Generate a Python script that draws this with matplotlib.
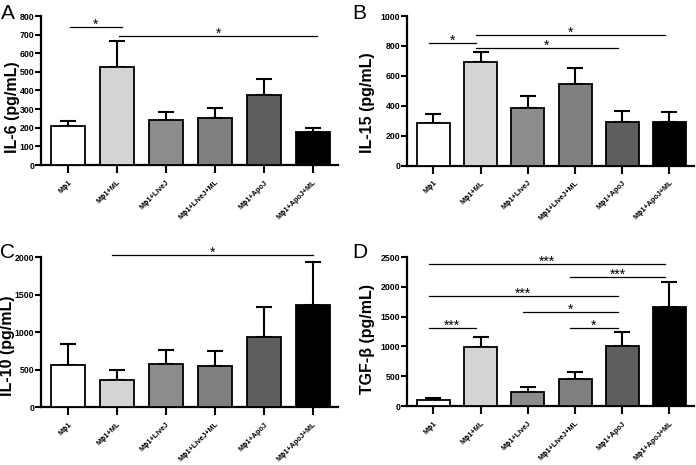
import matplotlib
matplotlib.use("Agg")
import matplotlib.pyplot as plt
import numpy as np

plt.rcParams['font.family'] = ['Liberation Sans', 'DejaVu Sans']

groups = ["M\u03d51", "M\u03d51+ML", "M\u03d51+LiveJ", "M\u03d51+LiveJ+ML", "M\u03d51+ApoJ", "M\u03d51+ApoJ+ML"]
bar_colors = ["#ffffff", "#d4d4d4", "#8c8c8c", "#7f7f7f", "#5e5e5e", "#000000"]

il6_mean = [209, 528, 241, 252, 377, 179]
il6_sem = [29, 139, 42, 52, 85, 20]
il15_mean = [283, 695, 383, 546, 294, 294]
il15_sem = [60, 67, 85, 109, 73, 62]
il10_mean = [564, 364, 578, 547, 933, 1356]
il10_sem = [280, 134, 186, 200, 400, 582]
tgf_mean = [100, 993, 240, 446, 1004, 1663]
tgf_sem = [40, 168, 72, 118, 240, 413]

# significance comparisons: (group i, group j, bracket height, label)
il6_sig = [(0, 1, 742, "*"), (1, 5, 694, "*")]
il15_sig = [(0, 1, 822, "*"), (1, 5, 873, "*"), (1, 4, 789, "*")]
il10_sig = [(1, 5, 2022, "*")]
tgf_sig = [(0, 5, 2388, "***"), (3, 5, 2165, "***"), (0, 4, 1842, "***"),
           (2, 4, 1585, "*"), (3, 4, 1317, "*"), (0, 1, 1317, "***")]

W, H = 696, 465
fig = plt.figure(figsize=(W / 100, H / 100), dpi=100)

def px_axes(l, r, t, b):
    return fig.add_axes([l / W, 1 - b / H, (r - l) / W, (b - t) / H])

panels = [
    dict(box=(41, 338, 16, 165), mean=il6_mean, sem=il6_sem, sig=il6_sig, ymax=800, step=100,
         ylabel="IL-6 (pg/mL)", letter="A", lpos=(1, 4), off=(0.03, 0.1), lab=(-0.071, 0.39)),
    dict(box=(407, 694, 16, 165.5), mean=il15_mean, sem=il15_sem, sig=il15_sig, ymax=1000, step=200,
         ylabel="IL-15 (pg/mL)", letter="B", lpos=(352, 4), off=(-0.1, -0.1), lab=(-0.111, 0.42)),
    dict(box=(41, 338, 257, 407), mean=il10_mean, sem=il10_sem, sig=il10_sig, ymax=2000, step=500,
         ylabel="IL-10 (pg/mL)", letter="C", lpos=(0, 243), off=(-0.1, 0.0), lab=(-0.087, 0.41)),
    dict(box=(407, 694, 257, 406), mean=tgf_mean, sem=tgf_sem, sig=tgf_sig, ymax=2500, step=500,
         ylabel="TGF-\u03b2 (pg/mL)", letter="D", lpos=(352, 243), off=(-0.1, -0.1), lab=(-0.111, 0.45)),
]

x = np.arange(len(groups))
for p in panels:
    ax = px_axes(*p["box"])
    ax.bar(x, p["mean"], width=0.7, color=bar_colors, edgecolor="black", linewidth=1.3, zorder=3)
    ax.errorbar(x, p["mean"], yerr=[np.zeros(len(x)), p["sem"]], fmt="none", ecolor="black",
                elinewidth=1.5, capsize=6, capthick=1.5, zorder=2)
    ax.set_xlim(-0.56, 5.52)
    ax.set_ylim(0, p["ymax"])
    ax.set_yticks(np.arange(0, p["ymax"] + 1, p["step"]))
    ax.set_xticks(x)
    ax.set_xticklabels(groups, rotation=45, ha="right", rotation_mode="anchor",
                       fontsize=5.2, fontweight="bold")
    for lab in ax.get_yticklabels():
        lab.set_fontweight("bold")
        lab.set_fontsize(6.3)
    ax.tick_params(axis="y", length=4, width=1.5, pad=1)
    ax.tick_params(axis="x", length=6, width=1.5, pad=4)
    for s in ["top", "right"]:
        ax.spines[s].set_visible(False)
    for s in ["left", "bottom"]:
        ax.spines[s].set_linewidth(1.6)
    ax.set_ylabel(p["ylabel"], fontsize=11.5, fontweight="bold")
    ax.yaxis.set_label_coords(*p["lab"])
    o1, o2 = p["off"]
    for i, j, yv, lab in p["sig"]:
        ax.plot([i + o1, j + o2], [yv, yv], color="black", linewidth=0.9, clip_on=False, zorder=4)
        ax.annotate(lab, xy=((i + o1 + j + o2) / 2, yv), xytext=(0, -3.5), textcoords="offset points",
                    ha="center", va="bottom", fontsize=10, annotation_clip=False)
    fig.text(p["lpos"][0] / W, 1 - p["lpos"][1] / H, p["letter"], fontsize=15, ha="left", va="top")

fig.savefig("out.png", dpi=100)
